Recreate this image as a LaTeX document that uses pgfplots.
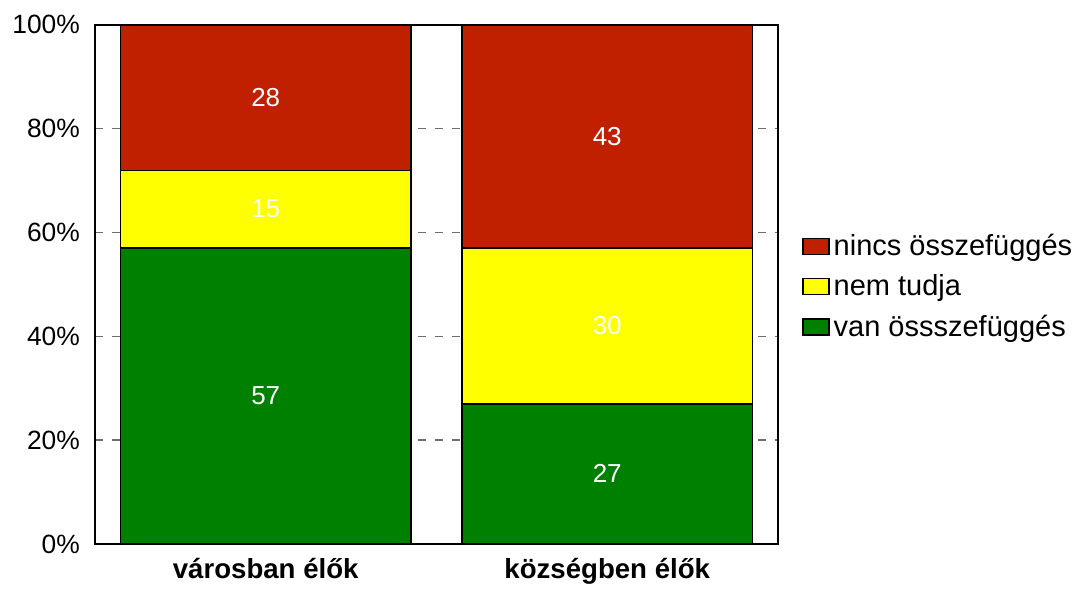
\documentclass[border=0pt]{standalone}
\usepackage{pgfplots}
\pgfplotsset{compat=1.18}
\usepackage{fontspec}
\setmainfont{Liberation Sans}
\definecolor{cred}{RGB}{192,32,0}
\definecolor{cyellow}{RGB}{255,255,0}
\definecolor{cgreen}{RGB}{0,128,0}
\definecolor{cgrid}{RGB}{110,110,110}
\begin{document}
\begin{tikzpicture}[font=\fontsize{13.2}{15}\selectfont]
\begin{axis}[
  scale only axis, width=341.5pt, height=259.5pt,
  ybar stacked, bar width=0.851,
  xmin=-0.5, xmax=1.5, ymin=0, ymax=100,
  xtick={0,1}, xticklabels={városban élők, községben élők},
  xticklabel style={font=\fontsize{13.8}{16}\selectfont\bfseries, yshift=-3.5pt},
  ytick={0,20,...,100}, yticklabel={\pgfmathprintnumber{\tick}\%},
  yticklabel style={xshift=-4pt, font=\fontsize{13.2}{15}\selectfont},
  /pgf/number format/assume math mode=true,
  major tick length=0pt,
  ymajorgrids, grid style={cgrid, dash pattern=on 4pt off 4.5pt, line width=0.7pt},
  axis line style={line width=0.9pt},
  clip=false,
  legend style={draw=none, at={(1.035,0.605)}, anchor=north west, font=\fontsize{14.5}{17}\selectfont, row sep=4pt, inner sep=0pt},
  legend cell align=left,
  reverse legend,
  legend image code/.code={\draw[#1, line width=0.7pt] (0pt,-4pt) rectangle (13pt,4pt);},
]
\addplot[fill=cgreen, draw=black, line width=0.7pt] coordinates {(0,57) (1,27)};
\addplot[fill=cyellow, draw=black, line width=0.7pt] coordinates {(0,15) (1,30)};
\addplot[fill=cred, draw=black, line width=0.7pt] coordinates {(0,28) (1,43)};
\legend{van össszefüggés, nem tudja, nincs összefüggés}
\path (rel axis cs:-0.139,-0.081) rectangle (rel axis cs:1.4407,1.048);
\end{axis}
\begin{axis}[
  scale only axis, width=341.5pt, height=259.5pt,
  xmin=-0.5, xmax=1.5, ymin=0, ymax=100, hide axis, clip=false,
  point meta=explicit symbolic,
  every node near coord/.append style={anchor=center, text=white, font=\fontsize{13}{15}\selectfont},
]
\addplot[only marks, mark=none, nodes near coords] table[meta=l] {
x y l
0 28.5 57
0 64.5 15
0 86 28
1 13.5 27
1 42 30
1 78.5 43
};
\end{axis}
\end{tikzpicture}
\end{document}
